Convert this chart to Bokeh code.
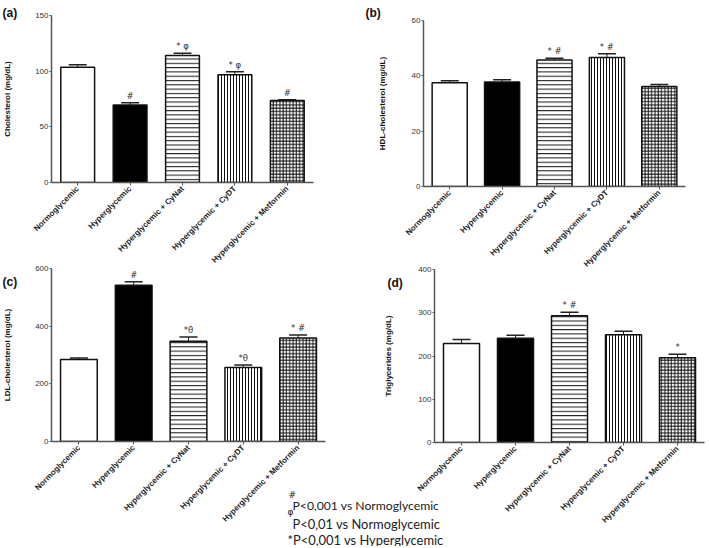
import math
from bokeh.plotting import figure
from bokeh.layouts import column
from bokeh.models import (FactorRange, Range1d, FixedTicker, Whisker, TeeHead,
                          ColumnDataSource, Label, GridBox)
from bokeh.embed import file_html
from bokeh.resources import INLINE
from bokeh.core.properties import value

# ---------------- data ----------------
groups = ["Normoglycemic", "Hyperglycemic", "Hyperglycemic + CyNat",
          "Hyperglycemic + CyDT", "Hyperglycemic + Metformin"]

chol_mean = [103.6, 69.5, 114.1, 96.8, 73.7]
chol_upper = [105.7, 71.6, 116.2, 99.5, 74.3]
chol_marks = ["", "#", "* \u03c6", "* \u03c6", "#"]
chol_ticks = [0, 50, 100, 150]

hdl_mean = [37.5, 37.8, 45.7, 46.6, 36.1]
hdl_upper = [38.2, 38.6, 46.4, 48.0, 36.9]
hdl_marks = ["", "", "* #", "* #", ""]
hdl_ticks = [0, 20, 40, 60]

ldl_mean = [284, 542, 348, 257, 359]
ldl_upper = [290, 554, 362, 265, 369]
ldl_marks = ["", "#", "*\u03b8", "*\u03b8", "* #"]
ldl_ticks = [0, 200, 400, 600]

tg_mean = [229, 241, 293, 249, 196]
tg_upper = [238, 248, 301, 257, 204]
tg_marks = ["", "", "* #", "", "*"]
tg_ticks = [0, 100, 200, 300, 400]

legend_lines = ["P<0,001 vs Normoglycemic", "P<0,01 vs Normoglycemic",
                "*P<0,001 vs Hyperglycemic"]
legend_sups = ["#", "\u03c6"]

# ---------------- styles ----------------
fills = ["white", "black", "white", "white", "white"]
hatches = [" ", " ", "-", "|", "+"]
hscales = [4, 4, 4.3, 3.0, 3.3]

FONT = "Liberation Sans"
MARKFONT = "DejaVu Sans"


def wrap(p, x0, y0):
    c = column(p)
    c.margin = (y0, 0, 0, x0)
    return c


def panel(ylabel, means, uppers, marks, ticks, region, frame, bar_w, cap,
          label_cx, tick_w):
    x0, y0, x1, y1 = region
    L, R, T, B = frame
    w = x1 - x0
    h = y1 - y0
    p = figure(width=w, height=h,
               x_range=FactorRange(*groups),
               y_range=Range1d(ticks[0], ticks[-1]),
               output_backend="svg", toolbar_location=None,
               min_border_left=L - x0, min_border_right=x1 - R,
               min_border_top=T - y0, min_border_bottom=y1 - B,
               border_fill_color=None, background_fill_color=None)
    p.outline_line_color = None
    p.grid.visible = False

    src = ColumnDataSource(dict(g=groups, m=means, u=uppers, mk=marks,
                                fill=fills, hatch=hatches, hs=hscales))
    p.vbar(x="g", top="m", bottom=0, width=bar_w, source=src,
           fill_color="fill", line_color="#111", line_width=1.5,
           hatch_pattern="hatch", hatch_scale="hs", hatch_color="#111",
           hatch_weight=1)
    p.add_layout(Whisker(base="g", upper="u", lower="m", source=src,
                         dimension="height", line_color="#222", line_width=1,
                         upper_head=TeeHead(size=cap, line_width=1.5,
                                            line_color="#222"),
                         lower_head=None))
    p.text(x="g", y="u", text="mk", source=src, text_align="center",
           text_baseline="bottom", y_offset=-2, text_font_size="8.5px",
           text_color="#333", text_font=value(MARKFONT))

    xa = p.xaxis[0]
    xa.major_label_orientation = math.pi / 4
    xa.major_label_text_font = FONT
    xa.major_label_text_font_size = "8px"
    xa.major_label_text_font_style = "bold"
    xa.major_label_text_color = "#222"
    xa.axis_line_color = "#555"
    xa.axis_line_width = 1.5
    xa.major_tick_out = 3
    xa.major_tick_in = 0
    xa.major_tick_line_color = "#555"
    xa.minor_tick_line_color = None
    xa.major_label_standoff = 2

    ya = p.yaxis[0]
    ya.ticker = FixedTicker(ticks=ticks)
    ya.major_label_text_font = FONT
    ya.major_label_text_font_size = "8px"
    ya.major_label_text_color = "#333"
    ya.axis_line_color = "#555"
    ya.axis_line_width = 1.5
    ya.major_tick_out = 2
    ya.major_tick_in = 0
    ya.major_tick_line_color = "#555"
    ya.minor_tick_line_color = None
    ya.major_label_standoff = 1
    ya.axis_label = ylabel
    ya.axis_label_text_font = FONT
    ya.axis_label_text_font_size = "8px"
    ya.axis_label_text_font_style = "bold"
    ya.axis_label_text_color = "#111"
    tick_left = L - 3 - tick_w
    label_near = label_cx + 5
    ya.axis_label_standoff = max(0, int(round(tick_left - label_near)))
    return wrap(p, x0, y0)


pa = panel("Cholesterol (mg/dL)", chol_mean, chol_upper, chol_marks, chol_ticks,
           (0, 0, 352, 300), (49, 313, 15, 182), 0.645, 18, 7, 13.5)
pb = panel("HDL-cholesterol (mg/dL)", hdl_mean, hdl_upper, hdl_marks, hdl_ticks,
           (352, 0, 707, 300), (423, 685, 20, 186), 0.67, 18, 384, 9)
pc = panel("LDL-cholesterol (mg/dL)", ldl_mean, ldl_upper, ldl_marks, ldl_ticks,
           (0, 262, 352, 546), (49, 325, 268, 441), 0.67, 18, 7, 13.5)
pd = panel("Triglycerides (mg/dL)", tg_mean, tg_upper, tg_marks, tg_ticks,
           (352, 262, 707, 546), (434, 704, 269, 442), 0.667, 18, 390, 13.5)

# ---------------- overlay for panel letters and footnote ----------------
OW, OH = 707, 546
ov = figure(width=OW, height=OH, x_range=Range1d(0, OW), y_range=Range1d(OH, 0),
            x_axis_type=None, y_axis_type=None, output_backend="svg",
            toolbar_location=None, min_border=0,
            border_fill_color=None, background_fill_color=None)
ov.outline_line_color = None
ov.grid.visible = False


def lab(text, x, y, size, style="normal", font=FONT, color="#111"):
    ov.add_layout(Label(x=x, y=y, text=text, text_font=font,
                        text_font_size=size, text_font_style=style,
                        text_color=color, text_baseline="alphabetic",
                        text_align="left"))


for t, x, y in [("(a)", 2, 12), ("(b)", 365, 12.5), ("(c)", 2, 281), ("(d)", 387, 282)]:
    lab(t, x, y, "12px", "bold")

LF = "Lato"
lab(legend_sups[0], 288, 494, "9px", font=MARKFONT, color="#222")
lab(legend_lines[0], 292, 505, "12.2px", font=LF, color="#222")
lab(legend_sups[1], 287, 511, "9px", font=MARKFONT, color="#222")
lab(legend_lines[1], 292, 523, "12.9px", font=LF, color="#222")
lab(legend_lines[2], 287, 539, "12.9px", font=LF, color="#222")

root = GridBox(children=[(pa, 0, 0), (pb, 0, 0), (pc, 0, 0), (pd, 0, 0),
                         (wrap(ov, 0, 0), 0, 0)])

open("out.html", "w").write(file_html(root, INLINE))
